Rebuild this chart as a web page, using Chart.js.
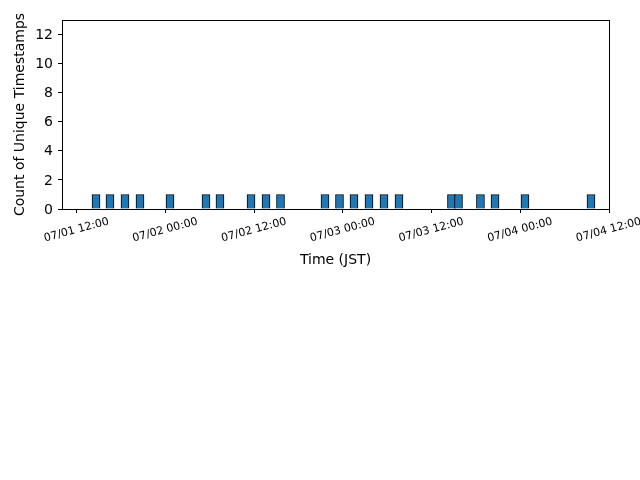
<!DOCTYPE html>
<html>
<head>
<meta charset="utf-8">
<script src="https://cdn.jsdelivr.net/npm/chart.js@4.4.1/dist/chart.umd.min.js"></script>
<style>
  html, body { margin: 0; padding: 0; background: #ffffff; }
  #wrap { width: 640px; height: 480px; }
</style>
</head>
<body>
<div id="wrap"><canvas id="c" width="640" height="480"></canvas></div>
<script>
// Bin centres, in hours after 07/01 00:00 JST
const binCenterHours = [14.60, 16.49, 18.52, 20.55, 24.61, 29.48, 31.37, 35.57, 37.60, 39.56,
  45.58, 47.54, 49.50, 51.53, 53.56, 55.59, 62.69, 63.64, 66.61, 68.58, 72.63, 81.56];
// Count of unique timestamps in each bin
const binCounts = [1, 1, 1, 1, 1, 1, 1, 1, 1, 1, 1, 1, 1, 1, 1, 1, 1, 1, 1, 1, 1, 1];
// X tick positions (hours after 07/01 00:00) and their labels
const xTickHours = [12, 24, 36, 48, 60, 72, 84];
const xTickLabels = ['07/01 12:00', '07/02 00:00', '07/02 12:00', '07/03 00:00', '07/03 12:00', '07/04 00:00', '07/04 12:00'];
const yTicks = [0, 2, 4, 6, 8, 10, 12];

const points = binCenterHours.map((h, i) => ({ x: h, y: binCounts[i] }));

const frame = {
  id: 'frame',
  afterDraw(chart) {
    const { ctx, chartArea: a } = chart;
    ctx.save();
    ctx.strokeStyle = '#000';
    ctx.lineWidth = 1;
    ctx.strokeRect(Math.round(a.left) + 0.5, Math.round(a.top) + 0.5, Math.round(a.right - a.left), Math.round(a.bottom - a.top));
    ctx.restore();
  }
};

const font = 'DejaVu Sans';
new Chart(document.getElementById('c'), {
  type: 'bar',
  data: {
    datasets: [{
      data: points,
      backgroundColor: '#1f77b4',
      borderColor: '#000000',
      borderWidth: 1,
      barThickness: 8
    }]
  },
  options: {
    responsive: false,
    animation: false,
    devicePixelRatio: 1,
    layout: { padding: { left: 8, right: 31, top: 20, bottom: 480 - 209 - 64 } },
    plugins: { legend: { display: false }, tooltip: { enabled: false } },
    scales: {
      x: {
        type: 'linear',
        min: 10,
        max: 84,
        offset: false,
        afterFit(s) { s.height = 64; },
        afterBuildTicks(s) { s.ticks = xTickHours.map(v => ({ value: v })); },
        grid: { display: true, drawOnChartArea: false, drawTicks: true, tickLength: 4, color: '#000', offset: false },
        border: { display: false },
        ticks: {
          minRotation: 15, maxRotation: 15,
          autoSkip: false,
          color: '#000',
          padding: 2,
          labelOffset: 32,
          font: { family: font, size: 11 },
          callback(v) { const i = xTickHours.indexOf(v); return i >= 0 ? xTickLabels[i] : ''; }
        },
        title: { display: true, text: 'Time (JST)', color: '#000', font: { family: font, size: 14 }, padding: { top: 4, bottom: 4 } }
      },
      y: {
        min: 0,
        max: 13,
        afterFit(s) { s.width = 54; },
        afterBuildTicks(s) { s.ticks = yTicks.map(v => ({ value: v })); },
        grid: { display: true, drawOnChartArea: false, drawTicks: true, tickLength: 4, color: '#000' },
        border: { display: false },
        ticks: { color: '#000', padding: 5, labelOffset: 1, font: { family: font, size: 14 } },
        title: { display: true, text: 'Count of Unique Timestamps', color: '#000', font: { family: font, size: 14 }, padding: { top: 4, bottom: 4 } }
      }
    }
  },
  plugins: [frame]
});
</script>
</body>
</html>
